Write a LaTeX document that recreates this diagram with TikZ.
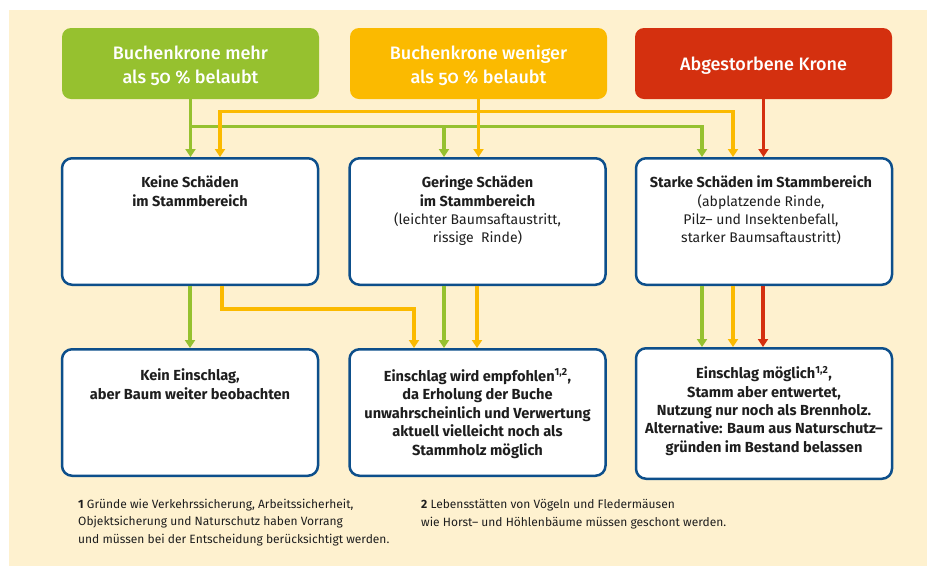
\documentclass[tikz,border=0pt]{standalone}
\usepackage{fontspec}
\setmainfont{Fira Sans}
\newfontfamily\topfont{Fira Sans Medium}[Numbers=OldStyle]
\usetikzlibrary{arrows.meta,calc}
\definecolor{beige}{HTML}{FEF1CF}
\definecolor{lgreen}{HTML}{96C12F}
\definecolor{lorange}{HTML}{FBBA00}
\definecolor{lred}{HTML}{D4300F}
\definecolor{boxblue}{HTML}{0D4F8B}
\definecolor{txt}{HTML}{1E1E1E}
\begin{document}
\begin{tikzpicture}[x=1pt,y=-1pt,
  topbox/.style={rounded corners=9pt, minimum width=257pt, minimum height=71pt, inner sep=0pt},
  toptext/.style={anchor=base, align=center, inner sep=0pt, text=white, font=\topfont\fontsize{18}{24}\selectfont},
  stagebox/.style={draw=boxblue, line width=2.5pt, fill=white, rounded corners=10pt, minimum width=256pt, minimum height=126.5pt, inner sep=0pt},
  boxtext/.style={anchor=base, align=center, inner sep=0pt, text=txt, font=\fontsize{14}{18.3}\selectfont},
  boldtext/.style={anchor=base, align=center, inner sep=0pt, text=txt, font=\fontsize{14.6}{18.5}\selectfont\bfseries},
  foot/.style={anchor=base west, align=left, inner sep=0pt, text=txt, font=\fontsize{12}{17.5}\selectfont},
  tip/.tip={Triangle[width=10pt,length=8pt]},
  conn/.style={line width=3.2pt},
  garr/.style={conn, draw=lgreen, -tip},
  oarr/.style={conn, draw=lorange, -tip},
  rarr/.style={conn, draw=lred, -tip}]
\useasboundingbox (0,0) rectangle (927,566);
\fill[white] (0,0) rectangle (927,566);
\fill[beige] (9,10) rectangle (927,566);

% top boxes
\node[topbox, fill=lgreen] (gtop) at (190.5,63.5) {};
\node[topbox, fill=lorange] (otop) at (478.5,63.5) {};
\node[topbox, fill=lred] (rtop) at (763.5,63.5) {};
\node[toptext] (gtopt) at (190.5,83) {Buchenkrone mehr\\als 50 \% belaubt};
\node[toptext] (otopt) at (478.5,83) {Buchenkrone weniger\\als 50 \% belaubt};
\node[toptext] (rtopt) at (763.5,70) {Abgestorbene Krone};

% middle boxes
\node[stagebox] (m1) at (190,221.5) {};
\node[stagebox] (m2) at (477.5,221.5) {};
\node[stagebox] (m3) at (764,221.5) {};
\node[boxtext] (m1t) at ($(m1.north)+(0,49)$) {\fontsize{14.5}{18.3}\selectfont\bfseries Keine Schäden\\\fontsize{14.5}{18.3}\selectfont\bfseries im Stammbereich};
\node[boxtext] (m2t) at ($(m2.north)+(0,85.6)$) {\fontsize{14.5}{18.3}\selectfont\bfseries Geringe Schäden\\\fontsize{14.5}{18.3}\selectfont\bfseries im Stammbereich\\(leichter Baumsaftaustritt,\\rissige\ \ Rinde)};
\node[boxtext] (m3t) at ($(m3.north)+(-3,85.6)$) {\fontsize{14.5}{18.3}\selectfont\bfseries Starke Schäden im Stammbereich\\(abplatzende Rinde,\\Pilz-- und Insektenbefall,\\starker Baumsaftaustritt)};

% bottom boxes
\node[stagebox] (b1) at (190,412.5) {};
\node[stagebox] (b2) at (477.5,412.5) {};
\node[stagebox, minimum height=130.5pt] (b3) at (764,413.5) {};
\node[boldtext] (b1t) at ($(b1.north)+(0,51.2)$) {Kein Einschlag,\\aber Baum weiter beobachten};
\node[boldtext] (b2t) at ($(b2.north)+(0,107)$) {Einschlag wird empfohlen\textsuperscript{1,2},\\da Erholung der Buche\\unwahrscheinlich und Verwertung\\aktuell vielleicht noch als\\Stammholz möglich};
\node[boldtext, font=\fontsize{14.6}{18.3}\selectfont\bfseries] (b3t) at ($(b3.north)+(0,105)$) {Einschlag möglich\textsuperscript{1,2},\\Stamm aber entwertet,\\Nutzung nur noch als Brennholz.\\Alternative: Baum aus Naturschutz--\\gründen im Bestand belassen};

% connectors top -> middle
\coordinate (gj) at ($(gtop.south)+(0,27)$);
\coordinate (oj) at ($(otop.south)+(0,12)$);
\coordinate (g2) at ($(m2.north)+(-33.5,0)$);
\coordinate (g3) at ($(m3.north)+(-62,0)$);
\coordinate (o1) at ($(m1.north)+(30,0)$);
\coordinate (o3) at ($(m3.north)+(-31,0)$);
\draw[garr] (gtop.south) -- (gtop.south |- m1.north);
\draw[garr] (gj) -| (g3);
\draw[garr] (g2 |- gj) -- (g2);
\draw[oarr] (otop.south) -- (otop.south |- m2.north);
\draw[conn, draw=lorange, tip-tip] (o1) |- (oj) -| (o3);
\draw[rarr] (rtop.south) -- (rtop.south |- m3.north);

% connectors middle -> bottom
\draw[garr] (m1.south) -- (b1.north);
\draw[oarr] ($(m1.south)+(32,0)$) -- ++(0,23) -| ($(b2.north)+(-63.5,0)$);
\draw[garr] ($(m2.south)+(-33.5,0)$) -- ($(b2.north)+(-33.5,0)$);
\draw[oarr] ($(m2.south)+(-0.5,0)$) -- ($(b2.north)+(-0.5,0)$);
\draw[garr] ($(m3.south)+(-62,0)$) -- ($(b3.north)+(-62,0)$);
\draw[oarr] ($(m3.south)+(-31,0)$) -- ($(b3.north)+(-31,0)$);
\draw[rarr] ($(m3.south)+(-1,0)$) -- ($(b3.north)+(-1,0)$);

% footnotes
\node[foot] (f1) at (78,543) {\textbf{1} Gründe wie Verkehrssicherung, Arbeitssicherheit,\\Objektsicherung und Naturschutz haben Vorrang\\und müssen bei der Entscheidung berücksichtigt werden.};
\node[foot] (f2) at (421,526) {\textbf{2} Lebensstätten von Vögeln und Fledermäusen\\wie Horst-- und Höhlenbäume müssen geschont werden.};
\end{tikzpicture}
\end{document}
